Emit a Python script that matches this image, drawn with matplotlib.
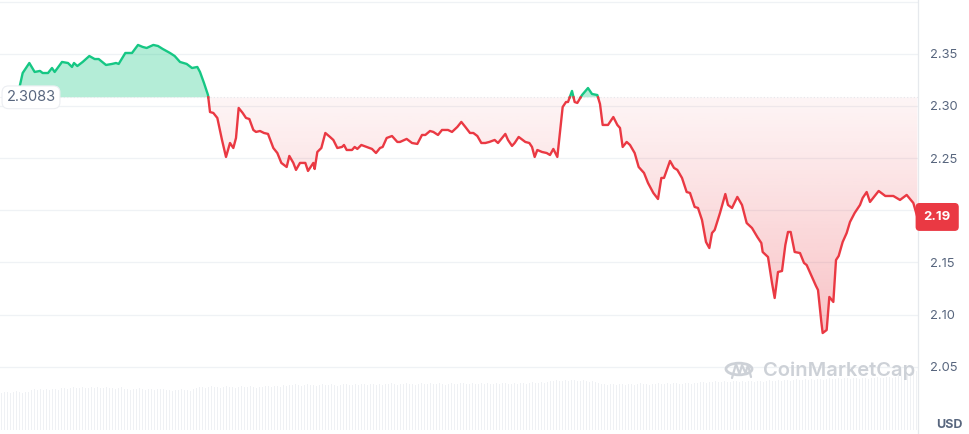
import numpy as np
import matplotlib.pyplot as plt
from matplotlib.path import Path
from matplotlib.patches import Circle

plt.rcParams['font.family'] = ['Inter', 'DejaVu Sans']

# minutes since start of window, price in USD
times = [30, 34, 44, 52, 60, 64, 72, 78, 82, 93, 102, 108, 111, 116, 124, 134, 142, 148,
         159, 168, 174, 178, 188, 198, 207, 214, 220, 230, 237, 244, 255, 262, 270, 280,
         288, 296, 300, 306, 312, 315, 320, 326, 333, 339, 345, 350, 354, 358, 364, 369,
         374, 380, 384, 390, 396, 402, 410, 416, 422, 430, 434, 440, 444, 450, 458, 462,
         470, 472, 476, 482, 488, 495, 500, 506, 513, 516, 520, 528, 532, 536, 542, 550,
         558, 564, 570, 574, 580, 588, 596, 600, 610, 618, 626, 633, 638, 645, 650, 657,
         663, 672, 678, 686, 692, 698, 705, 710, 716, 722, 728, 734, 742, 747, 758, 762,
         768, 772, 778, 788, 794, 798, 802, 806, 813, 820, 825, 830, 836, 840, 844, 849,
         852, 858, 862, 866, 873, 882, 888, 896, 900, 904, 912, 920, 926, 930, 934, 940,
         945, 952, 958, 966, 972, 980, 987, 992, 996, 1005, 1011, 1016, 1023, 1030, 1035,
         1042, 1047, 1053, 1059, 1064, 1068, 1072, 1080, 1088, 1092, 1098, 1106, 1113,
         1120, 1128, 1136, 1142, 1144, 1152, 1158, 1162, 1167, 1173, 1178, 1182, 1186,
         1192, 1200, 1206, 1210, 1218, 1224, 1227, 1232, 1234, 1240, 1244, 1250, 1254,
         1258, 1264, 1270, 1275, 1282, 1290, 1294, 1300, 1305, 1312, 1318, 1328, 1340,
         1350, 1360, 1370, 1376]
prices = [2.3201, 2.3316, 2.3412, 2.3326, 2.3336, 2.3316, 2.3316, 2.3364, 2.3326, 2.3422,
          2.3412, 2.3374, 2.3412, 2.3383, 2.3422, 2.3479, 2.3450, 2.3450, 2.3393, 2.3403,
          2.3412, 2.3403, 2.3508, 2.3508, 2.3585, 2.3566, 2.3556, 2.3585, 2.3575, 2.3547,
          2.3508, 2.3479, 2.3422, 2.3403, 2.3364, 2.3374, 2.3326, 2.3220, 2.3105, 2.2942,
          2.2933, 2.2885, 2.2674, 2.2511, 2.2645, 2.2597, 2.2693, 2.2981, 2.2933, 2.2885,
          2.2875, 2.2770, 2.2751, 2.2760, 2.2741, 2.2732, 2.2597, 2.2549, 2.2454, 2.2415,
          2.2521, 2.2454, 2.2387, 2.2454, 2.2454, 2.2377, 2.2454, 2.2396, 2.2559, 2.2597,
          2.2741, 2.2703, 2.2674, 2.2597, 2.2607, 2.2626, 2.2578, 2.2578, 2.2607, 2.2588,
          2.2626, 2.2607, 2.2588, 2.2549, 2.2597, 2.2607, 2.2693, 2.2712, 2.2655, 2.2655,
          2.2684, 2.2645, 2.2636, 2.2722, 2.2722, 2.2760, 2.2751, 2.2722, 2.2770, 2.2770,
          2.2751, 2.2799, 2.2847, 2.2799, 2.2741, 2.2741, 2.2712, 2.2645, 2.2645, 2.2655,
          2.2674, 2.2645, 2.2732, 2.2674, 2.2617, 2.2645, 2.2703, 2.2655, 2.2645, 2.2607,
          2.2511, 2.2578, 2.2559, 2.2549, 2.2530, 2.2588, 2.2511, 2.2751, 2.2990, 2.3038,
          2.3038, 2.3144, 2.3038, 2.3029, 2.3105, 2.3172, 2.3115, 2.3105, 2.3019, 2.2818,
          2.2818, 2.2894, 2.2818, 2.2789, 2.2607, 2.2655, 2.2626, 2.2549, 2.2415, 2.2358,
          2.2262, 2.2166, 2.2108, 2.2310, 2.2310, 2.2473, 2.2406, 2.2387, 2.2310, 2.2175,
          2.2166, 2.2032, 2.2022, 2.1907, 2.1696, 2.1638, 2.1782, 2.1811, 2.1974, 2.2156,
          2.2051, 2.2022, 2.2128, 2.2051, 2.1878, 2.1830, 2.1744, 2.1686, 2.1600, 2.1552,
          2.1303, 2.1159, 2.1408, 2.1418, 2.1667, 2.1792, 2.1792, 2.1600, 2.1590, 2.1495,
          2.1475, 2.1360, 2.1274, 2.1236, 2.0929, 2.0823, 2.0852, 2.1169, 2.1121, 2.1523,
          2.1562, 2.1696, 2.1782, 2.1888, 2.1974, 2.2051, 2.2118, 2.2175, 2.2080, 2.2137,
          2.2185, 2.2137, 2.2137, 2.2099, 2.2147, 2.2070, 2.1936]
base_price = 2.3083
price_ticks = [2.05, 2.10, 2.15, 2.20, 2.25, 2.30, 2.35]

# 24h volume per 4.5 min bucket (arbitrary units)
volume = [37, 38, 38, 37, 38, 39, 38, 37, 38, 38, 40, 41, 40, 41, 40, 41, 40, 41,
          41, 40, 42, 42, 41, 42, 43, 42, 42, 43, 42, 42, 43, 42, 43, 42, 42, 43,
          42, 42, 41, 42, 43, 41, 41, 40, 41, 41, 42, 41, 40, 41, 41, 40, 41, 41,
          41, 40, 40, 39, 40, 40, 41, 40, 40, 39, 41, 42, 43, 43, 42, 43, 44, 43,
          43, 42, 43, 44, 43, 43, 42, 43, 44, 43, 43, 44, 43, 42, 43, 43, 44, 44,
          43, 44, 44, 43, 45, 44, 45, 45, 46, 45, 44, 45, 46, 45, 45, 44, 45, 46,
          45, 45, 46, 45, 44, 45, 46, 46, 45, 45, 46, 45, 46, 46, 45, 46, 46, 45,
          46, 45, 46, 46, 47, 46, 45, 46, 46, 47, 46, 46, 45, 46, 47, 46, 46, 47,
          46, 46, 47, 46, 45, 46, 47, 46, 46, 47, 47, 46, 46, 47, 46, 46, 47, 46,
          47, 46, 46, 47, 46, 47, 47, 46, 46, 47, 46, 47, 47, 46, 47, 48, 47, 47,
          48, 47, 48, 49, 49, 50, 49, 49, 50, 49, 50, 50, 49, 49, 50, 49, 48, 49,
          48, 47, 46, 46, 45, 46, 46, 45, 46, 46, 45, 46, 46, 45, 46, 47, 46, 46,
          45, 46, 46, 47, 46, 46, 47, 46, 47, 47, 46, 46, 47, 47, 46, 47, 47, 48,
          48, 47, 48, 48, 49, 48, 48, 49, 48, 48, 49, 49, 48, 49, 48, 49, 49, 48,
          49, 49, 48, 49, 50, 49, 49, 50, 49, 50, 50, 49, 50, 51, 50, 50, 51, 50,
          51, 50, 51, 51, 50, 51, 52, 51, 51, 52, 51, 52, 52, 51, 52, 52, 51, 52,
          52, 51, 52, 52, 53, 52, 52, 53, 53, 52, 53, 54, 54, 56, 57, 58, 58, 59]

GREEN = '#16c784'
RED = '#ea3943'
GRID = '#eff2f5'
TXT = '#58667e'
T_END = 1377
W, H = 970, 434


def px(x, y):
    return x / W, 1 - y / H


fig = plt.figure(figsize=(W / 100, H / 100), dpi=100)

# volume in the background
axv = fig.add_axes([0, 0, 918 / W, 1])
step = T_END / len(volume)
vt = np.arange(len(volume)) * step + step / 2
axv.bar(vt, volume, width=step * 0.6, color='#eff1f4', linewidth=0)
axv.set_xlim(0, T_END)
axv.set_ylim(-4, 430)
axv.axis('off')

ax = fig.add_axes([0, 0, 918 / W, 1])
ax.patch.set_alpha(0)
ax.set_xlim(0, T_END)
ax.set_ylim(1.9855, 2.4016)

# insert baseline crossings so the colours switch exactly at the base price
t = np.array(times, float)
p = np.array(prices)
tt, pp = [t[0]], [p[0]]
for i in range(1, len(p)):
    a, b = p[i - 1] - base_price, p[i] - base_price
    if a * b < 0:
        f = a / (a - b)
        tt.append(t[i - 1] + f * (t[i] - t[i - 1]))
        pp.append(base_price)
    tt.append(t[i])
    pp.append(p[i])
tt, pp = np.array(tt), np.array(pp)

# green area above base
ax.fill_between(tt, pp, base_price, where=pp >= base_price, color=GREEN, alpha=0.32,
                linewidth=0)

# red gradient area below base
poly = ax.fill_between(tt, pp, base_price, where=pp <= base_price, color='none',
                       linewidth=0)
grad = np.zeros((256, 1, 4))
grad[..., 0], grad[..., 1], grad[..., 2] = 234 / 255, 57 / 255, 67 / 255
grad[:, 0, 3] = np.linspace(0.32, 0.05, 256)
img = ax.imshow(grad, extent=[0, T_END, 2.07, base_price], origin='lower',
                aspect='auto', zorder=1)
clip = Path.make_compound_path(*poly.get_paths())
img.set_clip_path(clip, transform=ax.transData)

ax.axhline(base_price, color='#e4e7eb', lw=0.8, ls=(0, (1, 2)), zorder=1.5)

up = np.where(pp >= base_price, pp, np.nan)
dn = np.where(pp <= base_price, pp, np.nan)
ax.plot(tt, up, color=GREEN, lw=1.7, solid_joinstyle='round', zorder=3)
ax.plot(tt, dn, color=RED, lw=1.7, solid_joinstyle='round', zorder=3)

# grid / axis (the 2.20 label sits under the current price tag)
for v in price_ticks + [2.40]:
    ax.axhline(v, color=GRID, lw=0.9, zorder=0.5)
ax.set_xticks([])
ax.yaxis.tick_right()
ax.set_yticks(price_ticks)
ax.set_yticklabels(['' if v == 2.20 else f'{v:.2f}' for v in price_ticks])
ax.tick_params(axis='y', length=0, pad=9, labelsize=9.3, labelcolor=TXT)
for s in ['top', 'left', 'bottom']:
    ax.spines[s].set_visible(False)
ax.spines['right'].set_color('#e6e9ed')
ax.spines['right'].set_linewidth(0.9)

# base price label
ax.text(0.007, base_price, f'{base_price:.4f}', transform=ax.get_yaxis_transform(),
        ha='left', va='center', fontsize=10.5, color=TXT, zorder=5,
        bbox=dict(boxstyle='round,pad=0.3,rounding_size=0.45', fc='white',
                  ec='#eceef2', lw=0.8))

# current price tag
ax.annotate(f'{prices[-1]:.2f}', xy=(1.0, prices[-1]),
            xycoords=('axes fraction', 'data'), xytext=(4, 0),
            textcoords='offset points', ha='left', va='center', fontsize=9.5,
            fontweight='bold', color='white', annotation_clip=False, zorder=6,
            bbox=dict(boxstyle='round,pad=0.55,rounding_size=0.25', fc=RED, ec=RED))

# watermark
wm = '#cdd1d7'
fig.text(*px(763, 371), 'CoinMarketCap', fontsize=14.5, fontweight='semibold',
         color=wm, ha='left', va='center')
fig.patches.append(Circle(px(739, 369), 13 / W, transform=fig.transFigure,
                          fill=False, ec=wm, lw=2.0))
mx = [732, 736, 739.5, 742, 745.5, 748, 751]
my = [378, 364, 374, 365, 373, 365, 377]
fig.lines.append(plt.Line2D([x / W for x in mx], [1 - y / H for y in my],
                            transform=fig.transFigure, color=wm, lw=1.6,
                            solid_joinstyle='round', solid_capstyle='round'))

fig.text(*px(949, 425), 'USD', fontsize=9, fontweight='bold', color=TXT,
         ha='center', va='center')

fig.savefig('out.png', dpi=100)
